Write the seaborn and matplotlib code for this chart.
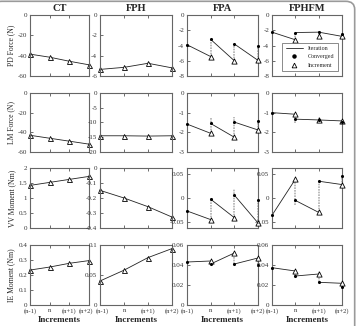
import pandas as pd
import matplotlib
matplotlib.use("Agg")
from matplotlib import pyplot as plt
from matplotlib.lines import Line2D
from matplotlib.patches import FancyBboxPatch
from matplotlib.transforms import ScaledTranslation
import seaborn as sns

increments = ["(n-1)", "n", "(n+1)", "(n+2)"]
columns = ["CT", "FPH", "FPA", "FPHFM"]
row_labels = ["PD Force (N)", "LM Force (N)", "VV Moment (Nm)", "IE Moment (Nm)"]

# CT / FPH : one value per increment
ct_pd = [-38.5, -41.5, -45.5, -49.0]
fph_pd = [-5.35, -5.15, -4.75, -5.2]
ct_lm = [-43.0, -46.0, -49.0, -52.0]
fph_lm = [-14.5, -14.5, -14.6, -14.5]
ct_vv = [1.42, 1.52, 1.62, 1.72]
fph_vv = [-0.149, -0.20, -0.258, -0.327]
ct_ie = [0.233, 0.253, 0.278, 0.296]
fph_ie = [0.04, 0.058, 0.079, 0.094]

# FPA / FPHFM : converged at (n-1)..(n+2), increment + iteration start at n..(n+2),
# iteration span (lo, hi) at n..(n+2)
fpa_pd_conv = [-3.9, -3.2, -3.8, -4.1]
fpa_pd_inc = [-5.45, -6.0, -5.95]
fpa_pd_start = [-5.45, -6.0, -5.95]
fpa_pd_lo = [-5.45, -6.0, -5.95]
fpa_pd_hi = [-3.2, -3.8, -4.1]

fphfm_pd_conv = [-2.25, -2.3, -2.25, -2.45]
fphfm_pd_inc = [-3.25, -2.75, -2.8]
fphfm_pd_start = [-3.25, -2.25, -2.8]
fphfm_pd_lo = [-3.25, -2.75, -2.8]
fphfm_pd_hi = [-2.3, -2.25, -2.45]

fpa_lm_conv = [-1.58, -1.55, -1.48, -1.41]
fpa_lm_inc = [-2.05, -2.25, -1.88]
fpa_lm_start = [-2.05, -2.25, -1.88]
fpa_lm_lo = [-2.05, -2.25, -1.88]
fpa_lm_hi = [-1.2, -1.2, -1.41]

fphfm_lm_conv = [-1.0, -1.33, -1.37, -1.47]
fphfm_lm_inc = [-1.08, -1.35, -1.42]
fphfm_lm_start = [-1.08, -1.37, -1.42]
fphfm_lm_lo = [-1.55, -1.37, -1.55]
fphfm_lm_hi = [-1.08, -1.2, -1.42]

fpa_vv_conv = [-0.027, -0.0025, 0.006, -0.005]
fpa_vv_inc = [-0.045, -0.041, -0.052]
fpa_vv_start = [-0.045, -0.041, -0.052]
fpa_vv_lo = [-0.045, -0.041, -0.052]
fpa_vv_hi = [-0.0025, 0.018, -0.005]

fphfm_vv_conv = [-0.036, -0.005, 0.035, 0.046]
fphfm_vv_inc = [0.039, -0.030, 0.028]
fphfm_vv_start = [0.039, -0.030, 0.028]
fphfm_vv_lo = [-0.015, -0.030, 0.028]
fphfm_vv_hi = [0.039, 0.035, 0.046]

fpa_ie_conv = [0.043, 0.041, 0.041, 0.040]
fpa_ie_inc = [0.044, 0.052, 0.047]
fpa_ie_start = [0.044, 0.052, 0.047]
fpa_ie_lo = [0.040, 0.041, 0.040]
fpa_ie_hi = [0.044, 0.052, 0.047]

fphfm_ie_conv = [0.0373, 0.029, 0.0227, 0.018]
fphfm_ie_inc = [0.034, 0.031, 0.0217]
fphfm_ie_start = [0.034, 0.031, 0.0217]
fphfm_ie_lo = [0.029, 0.0227, 0.018]
fphfm_ie_hi = [0.034, 0.034, 0.0217]

simple = {(0, 0): ct_pd, (0, 1): fph_pd, (1, 0): ct_lm, (1, 1): fph_lm,
          (2, 0): ct_vv, (2, 1): fph_vv, (3, 0): ct_ie, (3, 1): fph_ie}
zigzag = {
    (0, 2): (fpa_pd_conv, fpa_pd_inc, fpa_pd_start, fpa_pd_lo, fpa_pd_hi),
    (0, 3): (fphfm_pd_conv, fphfm_pd_inc, fphfm_pd_start, fphfm_pd_lo, fphfm_pd_hi),
    (1, 2): (fpa_lm_conv, fpa_lm_inc, fpa_lm_start, fpa_lm_lo, fpa_lm_hi),
    (1, 3): (fphfm_lm_conv, fphfm_lm_inc, fphfm_lm_start, fphfm_lm_lo, fphfm_lm_hi),
    (2, 2): (fpa_vv_conv, fpa_vv_inc, fpa_vv_start, fpa_vv_lo, fpa_vv_hi),
    (2, 3): (fphfm_vv_conv, fphfm_vv_inc, fphfm_vv_start, fphfm_vv_lo, fphfm_vv_hi),
    (3, 2): (fpa_ie_conv, fpa_ie_inc, fpa_ie_start, fpa_ie_lo, fpa_ie_hi),
    (3, 3): (fphfm_ie_conv, fphfm_ie_inc, fphfm_ie_start, fphfm_ie_lo, fphfm_ie_hi),
}

ylims = [[(-60, 0), (-6, 0), (-8, 0), (-8, 0)],
         [(-60, 0), (-20, 0), (-3, 0), (-3, 0)],
         [(0, 2), (-0.4, 0), (-0.0625, 0.0625), (-0.0625, 0.0625)],
         [(0, 0.4), (0, 0.1), (0, 0.06), (0, 0.06)]]
yticks = [[[-60, -40, -20, 0], [-6, -4, -2, 0], [-8, -6, -4, -2, 0], [-8, -6, -4, -2, 0]],
          [[-60, -40, -20, 0], [-20, -15, -10, -5, 0], [-3, -2, -1, 0], [-3, -2, -1, 0]],
          [[0, 0.5, 1, 1.5, 2], [-0.4, -0.3, -0.2, -0.1, 0], [-0.05, 0, 0.05], [-0.05, 0, 0.05]],
          [[0, 0.1, 0.2, 0.3, 0.4], [0, 0.05, 0.1], [0, 0.02, 0.04, 0.06], [0, 0.02, 0.04, 0.06]]]

sns.set_style("ticks")
plt.rcParams['font.family'] = ['Liberation Serif', 'DejaVu Serif']

W, H = 359, 326
fig = plt.figure(figsize=(W / 100, H / 100), dpi=100)

col_px = [(30, 89), (100, 172), (187, 258), (272, 342)]
row_px = [(15, 76), (93, 152), (168, 228), (245, 305)]

line_c = "#222222"
iter_c = "#b0b0b0"
x = list(range(4))

for r in range(4):
    for c in range(4):
        x0, x1 = col_px[c]
        y0, y1 = row_px[r]
        ax = fig.add_axes([x0 / W, 1 - y1 / H, (x1 - x0) / W, (y1 - y0) / H])

        if (r, c) in simple:
            sns.lineplot(x=x, y=simple[(r, c)], ax=ax, color=line_c, linewidth=0.6,
                         marker="^", markersize=3.6, markerfacecolor="white",
                         markeredgecolor="black", markeredgewidth=0.6, clip_on=False)
        else:
            conv, inc, start, lo, hi = zigzag[(r, c)]
            segs = pd.DataFrame({
                "x": [v for i in range(3) for v in (i, i + 1)],
                "y": [v for i in range(3) for v in (conv[i], start[i])],
                "seg": [i for i in range(3) for _ in range(2)],
            })
            iters = pd.DataFrame({
                "x": [i + 1 for i in range(3) for _ in range(2)],
                "y": [v for i in range(3) for v in (lo[i], hi[i])],
                "seg": [i for i in range(3) for _ in range(2)],
            })
            sns.lineplot(data=iters, x="x", y="y", units="seg", estimator=None, ax=ax,
                         color=iter_c, linewidth=1.2, linestyle=(0, (1, 0.6)), clip_on=False)
            sns.lineplot(data=segs, x="x", y="y", units="seg", estimator=None, ax=ax,
                         color=line_c, linewidth=0.6, clip_on=False)
            sns.scatterplot(x=[1, 2, 3], y=inc, ax=ax, marker="^", s=14, color="white",
                            edgecolor="black", linewidth=0.6, clip_on=False, zorder=4)
            sns.scatterplot(x=x, y=conv, ax=ax, marker="o", s=5, color="black",
                            linewidth=0, clip_on=False, zorder=5)

        ax.set_xlim(0, 3)
        ax.set_ylim(*ylims[r][c])
        ax.set_yticks(yticks[r][c])
        ax.set_yticklabels(["0" if v == 0 else f"{v:g}" for v in yticks[r][c]])
        ax.set_xticks(x)
        if r == 3:
            ax.set_xticklabels(increments)
            ax.set_xlabel("Increments", fontsize=6.5, fontweight="bold", labelpad=2)
        else:
            ax.set_xticklabels([])
            ax.set_xlabel("")
        ax.set_ylabel(row_labels[r] if c == 0 else "", fontsize=5.5, labelpad=2)
        if r == 0:
            ax.set_title(columns[c], fontsize=7.5, fontweight="bold", pad=3)
        ax.tick_params(direction="in", length=2, width=0.5, labelsize=5, pad=2,
                       top=True, colors="#333333")
        ax.tick_params(axis="x", labelsize=4.8)
        for s in ax.spines.values():
            s.set_color("#666666")
            s.set_linewidth(0.8)

        # nudge the edge labels so neighbouring panels don't collide
        if r == 3:
            labels = ax.get_xticklabels()
            if c == 0:
                labels[-1].set_transform(labels[-1].get_transform()
                                         + ScaledTranslation(-2.5 / 100, 0, fig.dpi_scale_trans))
            if c == 1:
                labels[0].set_transform(labels[0].get_transform()
                                        + ScaledTranslation(2.5 / 100, 0, fig.dpi_scale_trans))

        if (r, c) == (0, 3):
            handles = [
                Line2D([], [], color=line_c, linewidth=0.6),
                Line2D([], [], color="black", marker="o", markersize=2.2, linestyle="none"),
                Line2D([], [], color="black", marker="^", markersize=3.4, linestyle="none",
                       markerfacecolor="white", markeredgewidth=0.6),
            ]
            leg = ax.legend(handles, ["Iteration", "Converged", "Increment"],
                            loc="lower right", fontsize=4.3, frameon=True, fancybox=False,
                            edgecolor="#555555", handlelength=2.8, borderpad=0.6,
                            labelspacing=0.5, bbox_to_anchor=(0.98, 0.03))
            leg.get_frame().set_linewidth(0.6)

frame = FancyBboxPatch((-0.02, -0.05), 1.008, 1.046, transform=fig.transFigure,
                       boxstyle="round,pad=0,rounding_size=0.025", fill=False,
                       edgecolor="#9a9a9a", linewidth=1.2)
fig.patches.append(frame)

fig.savefig("out.png", dpi=100)
